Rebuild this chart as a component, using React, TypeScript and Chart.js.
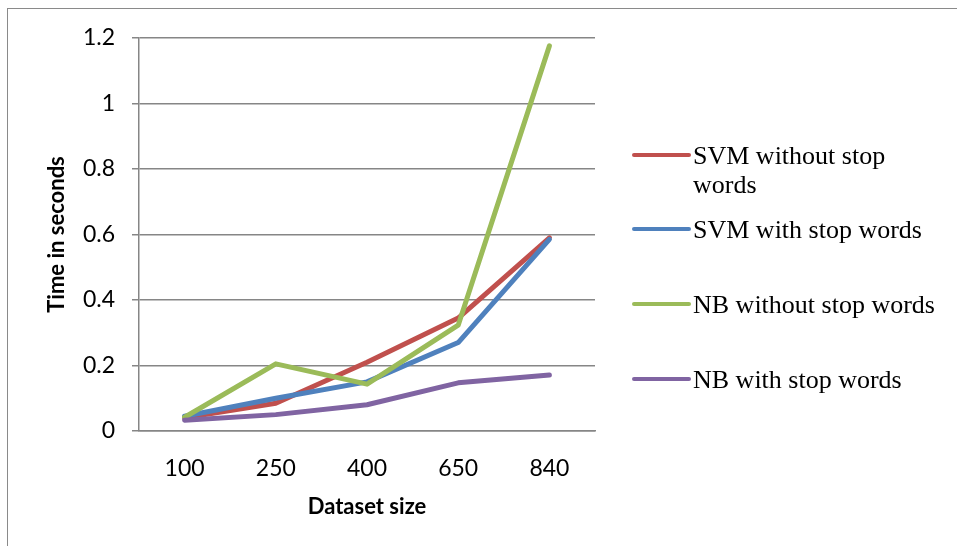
import React, { useEffect, useRef } from "react";
import { Chart, registerables } from "chart.js";

Chart.register(...registerables);

const categories = ["100", "250", "400", "650", "840"];
const seriesLabels = [
  "SVM without stop words",
  "SVM with stop words",
  "NB without stop words",
  "NB with stop words",
];
const svmWithout = [0.04, 0.085, 0.21, 0.345, 0.59];
const svmWith = [0.045, 0.1, 0.15, 0.27, 0.585];
const nbWithout = [0.042, 0.205, 0.143, 0.323, 1.176];
const nbWith = [0.033, 0.05, 0.08, 0.147, 0.171];
const seriesColors = ["#C0504D", "#4F81BD", "#9BBB59", "#8064A2"];
const yMin = 0;
const yMax = 1.2;
const yStep = 0.2;

const GRID = "#868686";
const TICK_FONT = { family: "Lato", size: 23 };
const TITLE_FONT = { family: "Lato", size: 22, weight: "bold" as const };

const legendPlugin = {
  id: "sideLegend",
  afterDraw(chart: any) {
    const ctx = chart.ctx as CanvasRenderingContext2D;
    ctx.save();
    ctx.font = '26px "Liberation Serif"';
    ctx.textBaseline = "alphabetic";
    ctx.textAlign = "left";
    const lineX0 = 634;
    const lineX1 = 689;
    const textX = 693;
    const maxW = 255;
    const rowY = [155, 229, 304, 379];
    chart.data.datasets.forEach((ds: any, i: number) => {
      const y = rowY[i];
      ctx.strokeStyle = ds.borderColor;
      ctx.lineWidth = 4;
      ctx.lineCap = "round";
      ctx.beginPath();
      ctx.moveTo(lineX0, y);
      ctx.lineTo(lineX1, y);
      ctx.stroke();
      const words = String(ds.label).split(" ");
      const lines: string[] = [];
      let cur = "";
      for (const w of words) {
        const t = cur ? cur + " " + w : w;
        if (ctx.measureText(t).width > maxW && cur) {
          lines.push(cur);
          cur = w;
        } else cur = t;
      }
      if (cur) lines.push(cur);
      ctx.fillStyle = "#000";
      lines.forEach((ln, k) => ctx.fillText(ln, textX, y + 9 + k * 29));
    });
    ctx.restore();
  },
};

export default function App() {
  const ref = useRef<HTMLCanvasElement>(null);
  useEffect(() => {
    document.body.style.overflow = "hidden";
    const seriesData = [svmWithout, svmWith, nbWithout, nbWith];
    const chart = new Chart(ref.current!, {
      type: "line",
      data: {
        labels: categories,
        datasets: seriesData.map((d, i) => ({
          label: seriesLabels[i],
          data: d,
          borderColor: seriesColors[i],
          backgroundColor: seriesColors[i],
          borderWidth: 5,
          pointRadius: 0,
          tension: 0,
          borderCapStyle: "round" as const,
          borderJoinStyle: "round" as const,
          order: seriesData.length - i,
        })),
      },
      options: {
        animation: false,
        responsive: true,
        maintainAspectRatio: false,
        events: [],
        layout: { padding: { top: 38, right: 362, left: 0, bottom: 0 } },
        plugins: {
          legend: { display: false },
          tooltip: { enabled: false },
        },
        scales: {
          x: {
            offset: true,
            grid: { display: false },
            border: { display: true, color: GRID, width: 1.5 },
            ticks: { color: "#000", font: TICK_FONT, padding: 16, maxRotation: 0 },
            title: {
              display: true,
              text: "Dataset size",
              color: "#000",
              font: TITLE_FONT,
              padding: { top: 0, bottom: 26 },
            },
            afterFit: (s: any) => {
              s.height = 115;
            },
          },
          y: {
            min: yMin,
            max: yMax,
            grid: { color: GRID, lineWidth: 1.5, tickLength: 7, drawTicks: true },
            border: { display: true, color: GRID, width: 1.5 },
            ticks: {
              stepSize: yStep,
              color: "#000",
              font: TICK_FONT,
              padding: 17,
              callback: (v: any) => String(Number(Number(v).toFixed(1))),
            },
            title: {
              display: true,
              text: "Time in seconds",
              color: "#000",
              font: TITLE_FONT,
              padding: { top: 44, bottom: 0 },
            },
            afterFit: (s: any) => {
              s.width = 139;
            },
          },
        },
      },
      plugins: [legendPlugin],
    });
    return () => chart.destroy();
  }, []);

  return (
    <div
      style={{
        position: "fixed",
        left: 0,
        top: 0,
        width: 957,
        height: 546,
        overflow: "hidden",
        background: "#fff",
      }}
    >
      <div
        style={{
          position: "absolute",
          left: 7,
          top: 8,
          width: 1100,
          height: 700,
          borderTop: "1px solid #8a8a8a",
          borderLeft: "1px solid #8a8a8a",
        }}
      />
      <div style={{ position: "absolute", left: 0, top: 0, width: 957, height: 546 }}>
        <canvas ref={ref} />
      </div>
    </div>
  );
}
